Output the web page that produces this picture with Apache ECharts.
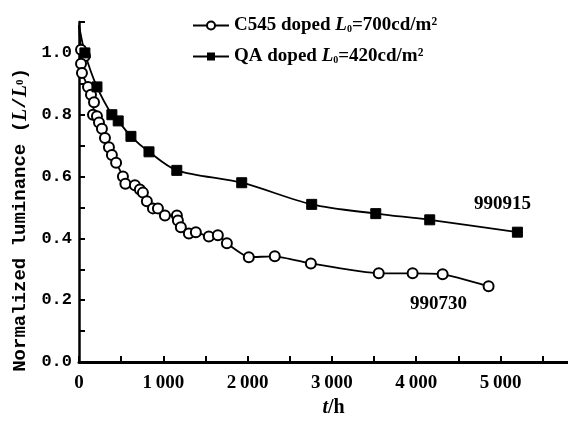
<!DOCTYPE html>
<html>
<head>
<meta charset="UTF-8">
<title>Luminance decay</title>
<script src="https://cdn.jsdelivr.net/npm/echarts@6/dist/echarts.min.js"></script>
<style>
  html, body { margin: 0; padding: 0; background: #fff; }
</style>
</head>
<body>
<div id="main" style="width: 568px;height:427px;"></div>
<script type="text/javascript">
// t in hours, L/L0
var c545Time = [0, 24, 71, 24, 35, 107, 142, 178, 166, 213, 237, 272, 308, 355, 390, 440, 521, 550, 663, 722, 758, 805, 877, 936, 1019, 1161, 1173, 1208, 1303, 1386, 1540, 1647, 1754, 2014, 2322, 2750, 3555, 3957, 4313, 4858];
var c545Lum  = [1.09, 1.01, 0.99, 0.965, 0.935, 0.89, 0.865, 0.84, 0.80, 0.795, 0.775, 0.755, 0.725, 0.695, 0.67, 0.645, 0.60, 0.577, 0.572, 0.558, 0.548, 0.52, 0.497, 0.497, 0.474, 0.474, 0.458, 0.436, 0.416, 0.42, 0.406, 0.41, 0.384, 0.339, 0.342, 0.319, 0.287, 0.287, 0.284, 0.245];
var qaTime = [0, 70, 213, 390, 465, 616, 830, 1160, 1930, 2760, 3520, 4160, 5200];
var qaLum  = [1.09, 1.0, 0.89, 0.80, 0.78, 0.73, 0.68, 0.62, 0.58, 0.51, 0.48, 0.46, 0.42];
var seriesNames = ['C545', 'QA'];
var legendText = {
  'C545': '{n|C545 doped }{i|L}{s|0}{n|=700cd/m²}',
  'QA': '{n|QA doped }{i|L}{s|0}{n|=420cd/m²}'
};

function pairs(ts, ys) {
  var out = [];
  for (var i = 0; i < ts.length; i++) {
    // first point is where the curve leaves the axis, no marker there
    if (i === 0) out.push({ value: [ts[i], ys[i]], symbol: 'none' });
    else out.push([ts[i], ys[i]]);
  }
  return out;
}

var serif = 'Liberation Serif';
var mono = 'Liberation Mono';

var myChart = echarts.init(document.getElementById('main'));
myChart.setOption({
  animation: false,
  grid: { left: 79, right: 0, top: 22, bottom: 65 },
  legend: {
    orient: 'vertical',
    left: 187,
    top: 11,
    itemWidth: 36,
    itemHeight: 10,
    itemGap: 12,
    data: seriesNames,
    formatter: function (name) { return legendText[name]; },
    textStyle: {
      rich: {
        n: { fontFamily: serif, fontSize: 19, fontWeight: 'bold', color: '#000' },
        i: { fontFamily: serif, fontSize: 19, fontWeight: 'bold', fontStyle: 'italic', color: '#000' },
        s: { fontFamily: serif, fontSize: 10, fontWeight: 'bold', color: '#000', padding: [8, 0, 0, 0] }
      }
    }
  },
  xAxis: {
    type: 'value',
    min: 0,
    max: 5800,
    interval: 500,
    name: '{i|t}{n|/h}',
    nameLocation: 'middle',
    nameGap: 34,
    nameTextStyle: {
      padding: [0, 0, 0, 20],
      rich: {
        i: { fontFamily: serif, fontSize: 20, fontStyle: 'italic', fontWeight: 'bold', color: '#000' },
        n: { fontFamily: serif, fontSize: 20, fontWeight: 'bold', color: '#000' }
      }
    },
    axisLine: { lineStyle: { color: '#000', width: 3 } },
    axisTick: { inside: true, length: 6, lineStyle: { color: '#000', width: 2 } },
    axisLabel: {
      margin: 12,
      color: '#000',
      fontFamily: serif,
      fontSize: 19,
      fontWeight: 'bold',
      showMaxLabel: false,
      formatter: function (v) {
        if (v % 1000 !== 0) return '';
        if (v === 0) return '0';
        return (v / 1000) + '\u2009000';
      }
    },
    splitLine: { show: false }
  },
  yAxis: {
    type: 'value',
    min: 0,
    max: 1.1,
    interval: 0.1,
    name: 'Normalized luminance ({i|L}/{i|L}{s|0})',
    nameLocation: 'middle',
    nameGap: 46,
    nameTextStyle: {
      fontFamily: mono,
      fontSize: 19,
      fontWeight: 'bold',
      color: '#000',
      padding: [0, 56, 0, 0],
      rich: {
        i: { fontFamily: serif, fontSize: 20, fontWeight: 'bold', fontStyle: 'italic', color: '#000' },
        s: { fontFamily: serif, fontSize: 11, fontWeight: 'bold', color: '#000' }
      }
    },
    axisLine: { lineStyle: { color: '#000', width: 2.5 } },
    axisTick: { inside: true, length: 6, lineStyle: { color: '#000', width: 2 } },
    axisLabel: {
      margin: 7,
      color: '#000',
      fontFamily: mono,
      fontSize: 17,
      fontWeight: 'bold',
      formatter: function (v) {
        var k = Math.round(v * 10);
        return (k % 2 === 0 && k <= 10) ? v.toFixed(1) : '';
      }
    },
    splitLine: { show: false }
  },
  graphic: [
    { type: 'text', left: 474, top: 195, style: { text: '990915', font: 'bold 19px "Liberation Serif"', fill: '#000' } },
    { type: 'text', left: 410, top: 295, style: { text: '990730', font: 'bold 19px "Liberation Serif"', fill: '#000' } }
  ],
  series: [
    {
      name: 'C545',
      type: 'line',
      data: pairs(c545Time, c545Lum),
      symbol: 'emptyCircle',
      symbolSize: 10,
      showAllSymbol: true,
      smooth: 0.15,
      lineStyle: { color: '#000', width: 1.8 },
      itemStyle: { color: '#000', borderWidth: 1.6 }
    },
    {
      name: 'QA',
      type: 'line',
      data: pairs(qaTime, qaLum),
      symbol: 'rect',
      symbolSize: 10,
      smooth: 0.3,
      lineStyle: { color: '#000', width: 1.8 },
      itemStyle: { color: '#000', borderColor: '#000' }
    }
  ]
});
</script>
</body>
</html>
